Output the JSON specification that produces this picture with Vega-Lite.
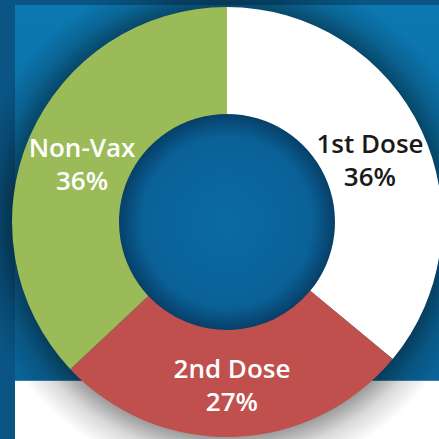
{
  "$schema": "https://vega.github.io/schema/vega-lite/v6.json",
  "width": 424,
  "height": 434,
  "autosize": {"type": "none"},
  "padding": {"left": 15, "top": 5, "right": 0, "bottom": 0},
  "background": "#0a5584",
  "view": {
    "stroke": null,
    "fill": {
      "gradient": "linear",
      "x1": 0, "y1": 0, "x2": 0, "y2": 1,
      "stops": [
        {"offset": 0, "color": "#0c78b0"},
        {"offset": 0.865, "color": "#0a6396"},
        {"offset": 0.866, "color": "#ffffff"},
        {"offset": 1, "color": "#ffffff"}
      ]
    }
  },
  "data": {
    "values": [
      {"cat": "1st Dose", "idx": 1, "share": 36, "label": "1st Dose\n36%"},
      {"cat": "2nd Dose", "idx": 2, "share": 27, "label": "2nd Dose\n27%"},
      {"cat": "Non-Vax", "idx": 3, "share": 37, "label": "Non-Vax\n36%"}
    ]
  },
  "layer": [
    {
      "data": {"values": [{"part": "shadow"}]},
      "mark": {
        "type": "arc",
        "theta": 0,
        "theta2": 6.2832,
        "innerRadius": 0,
        "outerRadius": 258,
        "fill": {
          "gradient": "radial",
          "x1": 0.5, "y1": 0.5, "r1": 0,
          "x2": 0.5, "y2": 0.5, "r2": 0.5,
          "stops": [
            {"offset": 0, "color": "rgba(0,0,0,0.38)"},
            {"offset": 0.835, "color": "rgba(0,0,0,0.38)"},
            {"offset": 0.91, "color": "rgba(0,0,0,0.15)"},
            {"offset": 1, "color": "rgba(0,0,0,0)"}
          ]
        }
      },
      "encoding": {}
    },
    {
      "data": {"values": [{"part": "hole"}]},
      "mark": {
        "type": "arc",
        "theta": 0,
        "theta2": 6.2832,
        "innerRadius": 0,
        "outerRadius": 109,
        "fill": {
          "gradient": "radial",
          "x1": 0.5, "y1": 0.5, "r1": 0,
          "x2": 0.5, "y2": 0.5, "r2": 0.5,
          "stops": [
            {"offset": 0, "color": "#0b6ba3"},
            {"offset": 0.78, "color": "#0a6198"},
            {"offset": 1, "color": "#073e66"}
          ]
        }
      },
      "encoding": {}
    },
    {
      "mark": {"type": "arc", "innerRadius": 108, "outerRadius": 215, "stroke": null},
      "encoding": {
        "theta": {"field": "share", "type": "quantitative", "stack": true},
        "order": {"field": "idx", "type": "quantitative"},
        "color": {
          "field": "cat",
          "type": "nominal",
          "scale": {"domain": ["1st Dose", "2nd Dose", "Non-Vax"], "range": ["#ffffff", "#c0504d", "#9bbb59"]},
          "legend": null
        }
      }
    },
    {
      "mark": {
        "type": "text",
        "radius": 158,
        "dy": -10,
        "lineBreak": "\n",
        "lineHeight": 33,
        "font": "Open Sans",
        "fontWeight": 600,
        "fontSize": 26,
        "align": "center",
        "baseline": "middle"
      },
      "encoding": {
        "theta": {"field": "share", "type": "quantitative", "stack": true},
        "order": {"field": "idx", "type": "quantitative"},
        "text": {"field": "label"},
        "color": {
          "condition": {"test": "datum.cat === '1st Dose'", "value": "#1a1a1a"},
          "value": "#ffffff"
        }
      }
    }
  ]
}
